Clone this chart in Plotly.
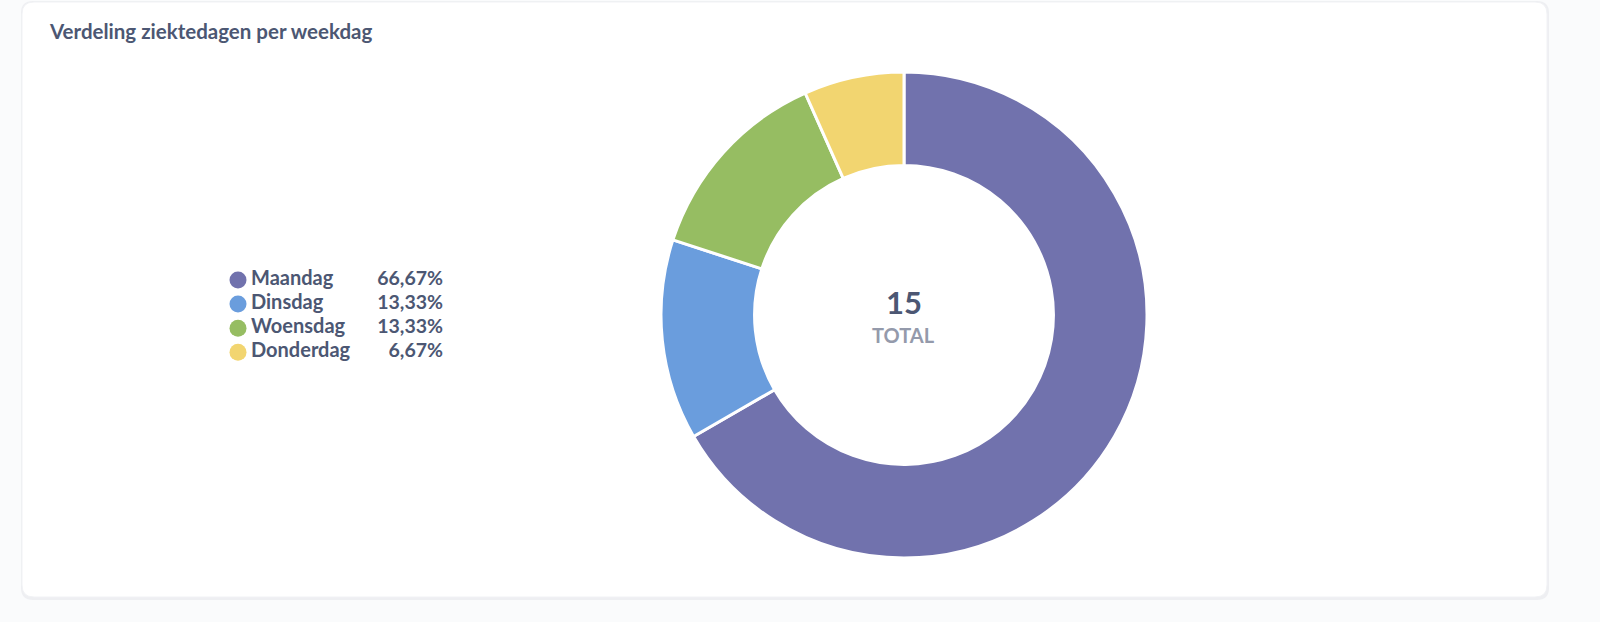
import plotly.graph_objects as go

# Verdeling ziektedagen per weekdag (donut)
days = ["Maandag", "Dinsdag", "Woensdag", "Donderdag"]
sick_days = [10, 2, 2, 1]
colors = ["#7172AD", "#6A9DDD", "#96BD62", "#F2D570"]

W, H = 1600, 622
total = sum(sick_days)
pct_labels = [f"{v / total * 100:.2f}".replace(".", ",") + "%" for v in sick_days]
rows = list(range(len(days)))

TXT = "#4C5773"
FONT = "Lato"


def rounded_rect(x0, y0, x1, y1, r):
    # pixel coords -> paper coords path with rounded corners
    px = lambda x: x / W
    py = lambda y: 1 - y / H
    return (f"M {px(x0 + r)} {py(y0)} L {px(x1 - r)} {py(y0)} "
            f"Q {px(x1)} {py(y0)} {px(x1)} {py(y0 + r)} "
            f"L {px(x1)} {py(y1 - r)} Q {px(x1)} {py(y1)} {px(x1 - r)} {py(y1)} "
            f"L {px(x0 + r)} {py(y1)} Q {px(x0)} {py(y1)} {px(x0)} {py(y1 - r)} "
            f"L {px(x0)} {py(y0 + r)} Q {px(x0)} {py(y0)} {px(x0 + r)} {py(y0)} Z")


fig = go.Figure()

# donut centred at (904, 315) px, outer radius ~243 px
cx, cy, R = 904, 315, 243
fig.add_trace(go.Pie(
    labels=days, values=sick_days, hole=0.615,
    sort=False, direction="clockwise", rotation=0,
    marker=dict(colors=colors, line=dict(color="white", width=3)),
    textinfo="none", showlegend=False,
    domain=dict(x=[(cx - R) / W, (cx + R) / W], y=[1 - (cy + R) / H, 1 - (cy - R) / H]),
))

# custom legend: dot, name, right-aligned percentage
fig.add_trace(go.Scatter(
    x=[238] * len(days), y=rows, mode="markers",
    marker=dict(color=colors, size=17), xaxis="x2", yaxis="y2",
    showlegend=False, hoverinfo="skip",
))
fig.add_trace(go.Scatter(
    x=[251] * len(days), y=rows, mode="text", text=[f"<b>{d}</b>" for d in days],
    textposition="middle right", textfont=dict(family=FONT, size=20, color=TXT),
    xaxis="x2", yaxis="y2", showlegend=False, hoverinfo="skip",
))
fig.add_trace(go.Scatter(
    x=[443] * len(days), y=rows, mode="text", text=[f"<b>{p}</b>" for p in pct_labels],
    textposition="middle left", textfont=dict(family=FONT, size=19.5, color=TXT),
    xaxis="x2", yaxis="y2", showlegend=False, hoverinfo="skip",
))

row_px = 24.1
top_px = 280
fig.update_layout(
    width=W, height=H,
    margin=dict(l=0, r=0, t=0, b=0),
    paper_bgcolor="#FAFBFC", plot_bgcolor="rgba(0,0,0,0)",
    font=dict(family=FONT, color=TXT),
    xaxis2=dict(domain=[0, 1], range=[0, W], visible=False, fixedrange=True),
    yaxis2=dict(domain=[0, 1], range=[(H - top_px) / row_px, -top_px / row_px],
                visible=False, fixedrange=True),
    shapes=[
        dict(type="path", xref="paper", yref="paper", layer="below",
             path=rounded_rect(21, 1, 1549, 600, 12),
             fillcolor="#EEEFF2", line=dict(width=0)),
        dict(type="path", xref="paper", yref="paper", layer="below",
             path=rounded_rect(22, 2, 1547, 597, 12),
             fillcolor="white", line=dict(color="#F1F2F5", width=1)),
    ],
    annotations=[
        dict(text="<b>Verdeling ziektedagen per weekdag</b>", x=47 / W, y=1 - 31 / H,
             xref="paper", yref="paper", xanchor="left", yanchor="middle",
             showarrow=False, font=dict(family=FONT, size=20.5, color=TXT)),
        dict(text=f"<b>{total}</b>", x=cx / W, y=1 - 302 / H, xref="paper", yref="paper",
             showarrow=False, font=dict(family=FONT, size=31, color=TXT)),
        dict(text="<b>TOTAL</b>", x=cx / W, y=1 - 335 / H, xref="paper", yref="paper",
             showarrow=False, font=dict(family=FONT, size=20, color="#949AAB")),
    ],
)

fig.write_html("out.html", config={"displayModeBar": False},
               post_script="document.body.style.margin='0';")
